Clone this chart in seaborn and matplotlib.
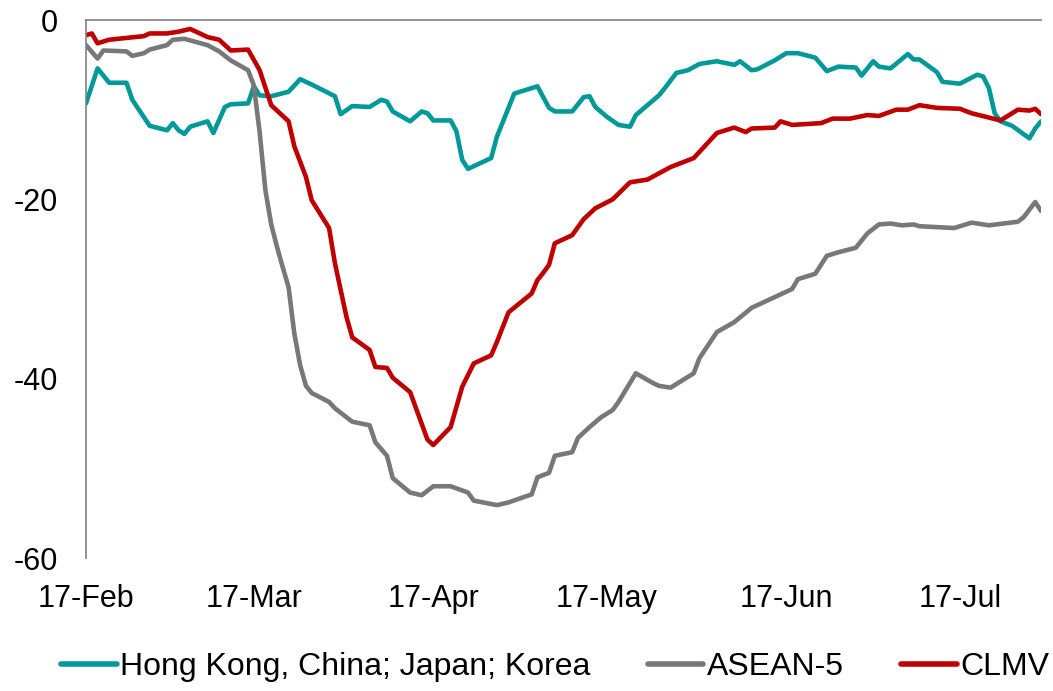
import numpy as np
import pandas as pd
import matplotlib
matplotlib.use("Agg")
import matplotlib.pyplot as plt
import seaborn as sns

# Days since 17-Feb-2020 and index values
hk_day = [0, 2, 4, 7, 8, 11, 14, 15, 16, 17, 18, 21, 22, 24, 25, 28, 29, 30, 32, 35, 37, 39,
          43, 44, 46, 49, 51, 52, 53, 56, 58, 59, 60, 63, 64, 65, 66, 70, 71, 73, 74, 78, 80,
          81, 84, 86, 87, 88, 90, 92, 94, 95, 99, 100, 102, 104, 106, 109, 112, 113, 115,
          116, 119, 121, 123, 126, 128, 130, 133, 134, 136, 137, 139, 142, 143, 144, 147,
          148, 151, 154, 155, 156, 157, 158, 160, 163, 164, 165]
hk_val = [-9.3, -5.4, -7.0, -7.0, -8.9, -11.8, -12.3, -11.5, -12.3, -12.7, -11.9, -11.3, -12.6,
          -9.7, -9.4, -9.3, -7.4, -8.4, -8.5, -8.0, -6.6, -7.2, -8.5, -10.5, -9.6, -9.7, -8.9,
          -9.1, -10.2, -11.3, -10.2, -10.4, -11.2, -11.2, -12.4, -15.6, -16.6, -15.4, -13.0,
          -9.8, -8.2, -7.4, -9.8, -10.2, -10.2, -8.6, -8.5, -9.7, -10.8, -11.7, -11.9, -10.6,
          -8.4, -7.6, -5.9, -5.6, -4.9, -4.6, -5.0, -4.6, -5.6, -5.5, -4.5, -3.7, -3.7, -4.2,
          -5.7, -5.2, -5.3, -6.2, -4.6, -5.2, -5.4, -3.8, -4.4, -4.4, -5.8, -6.9, -7.1, -6.1,
          -6.3, -7.6, -10.4, -11.3, -11.8, -13.2, -12.1, -11.3]

asean_day = [0, 2, 3, 7, 8, 10, 11, 14, 15, 17, 21, 23, 25, 28, 29, 30, 31, 32, 33, 34, 35,
             36, 37, 38, 39, 42, 43, 44, 46, 49, 50, 52, 53, 56, 58, 60, 63, 66, 67, 71, 73,
             77, 78, 80, 81, 84, 85, 87, 89, 91, 92, 95, 98, 99, 101, 105, 106, 109, 112, 115,
             118, 120, 122, 123, 126, 128, 130, 133, 135, 137, 139, 141, 143, 144, 147, 150,
             153, 156, 161, 162, 164, 165]
asean_val = [-2.8, -4.3, -3.4, -3.5, -4.0, -3.7, -3.3, -2.8, -2.2, -2.1, -2.8, -3.5, -4.5,
             -5.6, -7.3, -12.5, -19.0, -22.8, -25.3, -27.6, -29.8, -35.0, -38.5, -40.8, -41.6,
             -42.6, -43.3, -43.8, -44.8, -45.2, -47.1, -48.6, -51.1, -52.7, -53.0, -52.0, -52.0,
             -52.7, -53.6, -54.1, -53.8, -52.9, -51.0, -50.5, -48.6, -48.2, -46.6, -45.4, -44.3,
             -43.5, -42.6, -39.4, -40.5, -40.8, -41.0, -39.4, -37.7, -34.8, -33.7, -32.1, -31.2,
             -30.6, -30.0, -28.9, -28.3, -26.3, -25.9, -25.4, -23.8, -22.8, -22.7, -22.9, -22.8,
             -23.0, -23.1, -23.2, -22.6, -22.9, -22.5, -22.0, -20.3, -21.3]

clmv_day = [0, 1, 2, 4, 7, 10, 11, 14, 16, 18, 21, 23, 25, 28, 30, 32, 35, 36, 38, 39, 42,
            43, 45, 46, 49, 50, 52, 53, 56, 59, 60, 63, 65, 67, 70, 71, 73, 77, 78, 79, 80, 81,
            84, 86, 88, 91, 94, 97, 99, 101, 105, 109, 112, 114, 115, 119, 120, 122, 127, 129,
            132, 135, 137, 140, 142, 144, 147, 151, 153, 158, 161, 163, 164, 165]
clmv_val = [-1.7, -1.5, -2.6, -2.2, -2.0, -1.8, -1.5, -1.5, -1.3, -1.0, -1.9, -2.2, -3.4, -3.3,
            -5.6, -9.5, -11.3, -14.1, -17.5, -20.1, -23.2, -27.1, -33.1, -35.4, -36.8, -38.7,
            -38.8, -39.9, -41.5, -46.8, -47.4, -45.4, -40.9, -38.3, -37.4, -35.9, -32.6, -30.5,
            -29.0, -28.2, -27.3, -24.9, -24.0, -22.2, -21.0, -20.0, -18.1, -17.8, -17.1, -16.4,
            -15.4, -12.6, -12.0, -12.5, -12.1, -12.0, -11.3, -11.7, -11.5, -11.0, -11.0, -10.6,
            -10.7, -10.0, -10.0, -9.5, -9.8, -9.9, -10.4, -11.2, -10.0, -10.1, -9.9, -10.5]

series_names = ["Hong Kong, China; Japan; Korea", "ASEAN-5", "CLMV"]
series_colors = ["#009999", "#787878", "#c00000"]
tick_labels = ["17-Feb", "17-Mar", "17-Apr", "17-May", "17-Jun", "17-Jul"]
y_ticks = [0, -20, -40, -60]

start = pd.Timestamp("2020-02-17")
frames = []
for name, d, v in zip(series_names, [hk_day, asean_day, clmv_day], [hk_val, asean_val, clmv_val]):
    frames.append(pd.DataFrame({"date": start + pd.to_timedelta(d, unit="D"),
                                "value": v, "series": name}))
df = pd.concat(frames, ignore_index=True)

sns.set_style("white")
plt.rcParams["font.family"] = ["Liberation Sans", "DejaVu Sans"]
plt.rcParams["text.color"] = "black"

fig = plt.figure(figsize=(10.53, 6.91), dpi=100)
ax = fig.add_axes([86 / 1053, 1 - 558 / 691, (1041 - 86) / 1053, (558 - 20) / 691])

sns.lineplot(data=df, x="date", y="value", hue="series", hue_order=series_names,
             palette=series_colors, linewidth=3.3, ax=ax, sort=False)

ax.set_ylim(-60, 0)
ax.set_xlim(start, start + pd.Timedelta(days=165))
ax.set_yticks(y_ticks)
ax.set_yticklabels([str(t) for t in y_ticks], fontsize=22, color="black")
tick_dates = [pd.Timestamp(f"2020-{m:02d}-17") for m in range(2, 8)]
ax.set_xticks(tick_dates)
ax.set_xticklabels(tick_labels, fontsize=22, color="black")
ax.tick_params(axis="both", length=0, labelcolor="black")
ax.tick_params(axis="y", pad=20)
ax.tick_params(axis="x", pad=19)
ax.set_xlabel("")
ax.set_ylabel("")

for s in ["right", "bottom"]:
    ax.spines[s].set_visible(False)
for s in ["left", "top"]:
    ax.spines[s].set_color("#808080")
    ax.spines[s].set_linewidth(1.2)

leg = ax.legend(loc="center", bbox_to_anchor=(0.527, 1 - 667 / 691), bbox_transform=fig.transFigure,
                ncol=3, frameon=False, fontsize=23, handlelength=1.75, handletextpad=0.1,
                columnspacing=1.8)
for line in leg.get_lines():
    line.set_linewidth(4)
for t in leg.get_texts():
    t.set_color("black")

fig.savefig("out.png", dpi=100)
